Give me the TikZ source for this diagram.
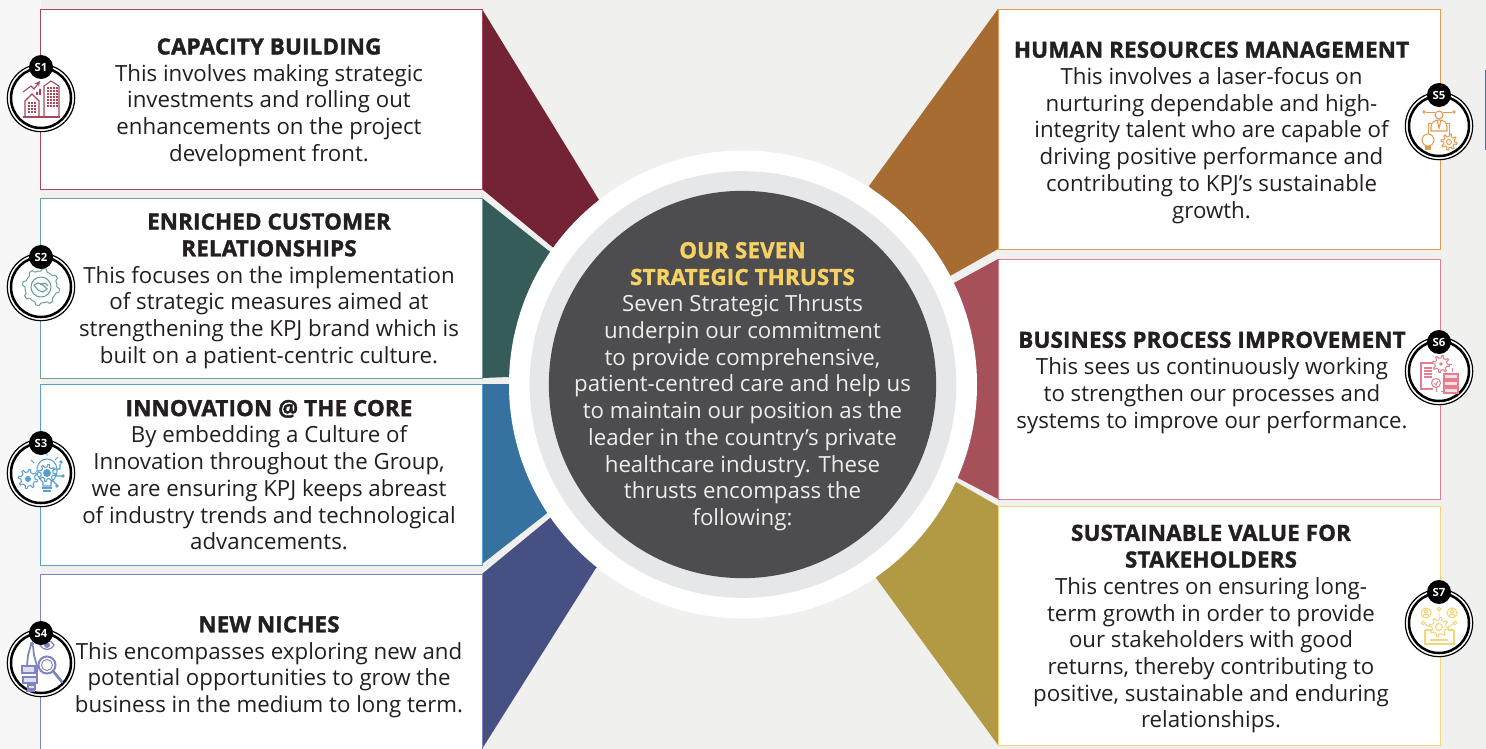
\documentclass[tikz,border=0pt]{standalone}
\usepackage{fontspec}
\setmainfont{Open Sans}
\newfontfamily\headfont{Open Sans}[BoldFeatures={FakeBold=1.6,LetterSpace=1.0}]
\usetikzlibrary{calc}
\definecolor{bgc}{HTML}{F0F0EE}
\definecolor{cA}{HTML}{732333}\definecolor{cB}{HTML}{355C59}\definecolor{cC}{HTML}{3572A0}\definecolor{cD}{HTML}{475083}
\definecolor{cE}{HTML}{A66C32}\definecolor{cF}{HTML}{A6505A}\definecolor{cG}{HTML}{B19A43}
\definecolor{lA}{HTML}{A8475A}\definecolor{lB}{HTML}{6F9F9B}\definecolor{lC}{HTML}{5A9FD0}\definecolor{lD}{HTML}{7F83C0}
\definecolor{lE}{HTML}{E39B52}\definecolor{lF}{HTML}{E37F8F}\definecolor{lG}{HTML}{F3D67A}
\definecolor{txt}{HTML}{231F20}\definecolor{dark}{HTML}{4D4D4F}\definecolor{ringg}{HTML}{E6E7E9}\definecolor{gold}{HTML}{F6D163}\definecolor{stub}{HTML}{5F6E92}
\newcommand{\hd}[1]{{\headfont\bfseries #1}}
% gear outline: x y body-radius colour
\newcommand{\geargl}[4]{%
  \begin{scope}[shift={(#1,#2)}]
  \draw[#4,line width=.75pt,fill=white,line join=round] plot[samples=65,domain=0:360] (\x:{#3+(sin(8*\x)>0.3?2.6:0)}) -- cycle;
  \end{scope}
}
\tikzset{
  panel/.style={draw=#1,fill=white,line width=.7pt,inner sep=0pt,minimum width=331pt},
  body/.style={font=\fontsize{16.7pt}{20.05pt}\selectfont,text=txt,align=center,inner sep=0pt},
  ringo/.style={circle,draw=black,fill=white,line width=.9pt,minimum size=50.5pt,inner sep=0pt},
  badge/.style={circle,fill=black,text=white,minimum size=18pt,inner sep=0pt,font=\fontsize{8.5pt}{10pt}\selectfont\bfseries},
}
\newcommand{\ringat}[3]{%
  \node[ringo] (r#1) at (#2,#3) {};
  \draw[black,line width=1.9pt] (r#1.center) circle[radius=30];
}
\begin{document}
\begin{tikzpicture}[x=.75pt,y=-.75pt]
\useasboundingbox (0,0) rectangle (1486,749);
\fill[bgc] (0,0) rectangle (1486,749);
\fill[black!3] (0,0) rectangle (41,749);
\fill[stub] (1484.5,70) rectangle (1486,150);
% wedges
\fill[cA] (482,9) -- (599,200) -- (640,230) -- (553,247.5) -- (482,189) -- cycle;
\fill[cB] (482,198) -- (549,251) -- (600,300) -- (509,377) -- (482,378) -- cycle;
\fill[cC] (482,384) -- (509,384) -- (600,450) -- (546,514) -- (482,564) -- cycle;
\fill[cD] (482,574) -- (550,518) -- (640,540) -- (596,568) -- (482,749) -- cycle;
\fill[cE] (998,9) -- (869,186) -- (900,220) -- (950,276) -- (998,249) -- cycle;
\fill[cF] (998,259) -- (954,283) -- (900,380) -- (958,478) -- (998,499) -- cycle;
\fill[cG] (998,506) -- (956,482) -- (900,540) -- (876,578) -- (998,745) -- cycle;
% centre
\node[circle,fill=white,minimum size=351pt,inner sep=0pt] (co) at (743,384.5) {};
\node[circle,fill=ringg,minimum size=320pt,inner sep=0pt] (cm) at (743,384.5) {};
\node[circle,fill=dark,minimum size=290.5pt,inner sep=0pt] (ci) at (742.5,384.5) {};
\node[font=\fontsize{16.7pt}{20.05pt}\selectfont,text=white!93!black,align=center,inner sep=0pt] (ct) at (742.5,386.5)
 {{\color{gold}\hd{OUR SEVEN}}\\{\color{gold}\hd{STRATEGIC THRUSTS}}\\Seven Strategic Thrusts\\underpin our commitment\\to provide comprehensive,\\patient-centred care and help us\\to maintain our position as the\\leader in the country’s private\\healthcare industry. These\\thrusts encompass the\\following:};
% panels
\node[panel=lA,minimum height=135pt] (p1) at (261.5,99) {};
\node[panel=lB,minimum height=135pt] (p2) at (261.5,288) {};
\node[panel=lC,minimum height=135.75pt] (p3) at (261.5,474.5) {};
\node[panel=lD,minimum height=135pt] (p4) at (261.5,664) {};
\node[panel=lE,minimum height=180pt,minimum width=331.5pt] (p5) at (1219,129) {};
\node[panel=lF,minimum height=180pt,minimum width=331.5pt] (p6) at (1219,379) {};
\node[panel=lG,minimum height=179.5pt,minimum width=331.5pt] (p7) at (1219,626) {};
% texts
\node[body] (t1) at (269,102.5) {\hd{CAPACITY BUILDING}\\This involves making strategic\\investments and rolling out\\enhancements on the project\\development front.};
\node[body] (t2) at (269,291) {\hd{ENRICHED CUSTOMER}\\\hd{RELATIONSHIPS}\\This focuses on the implementation\\of strategic measures aimed at\\strengthening the KPJ brand which is\\built on a patient-centric culture.};
\node[body] (t3) at (269,475) {\hd{INNOVATION @ THE CORE}\\By embedding a Culture of\\Innovation throughout the Group,\\we are ensuring KPJ keeps abreast\\of industry trends and technological\\advancements.};
\node[body] (t4) at (269,667) {\hd{NEW NICHES}\\This encompasses exploring new and\\potential opportunities to grow the\\business in the medium to long term.};
\node[body] (t5) at (1211.5,132.5) {\hd{HUMAN RESOURCES MANAGEMENT}\\This involves a laser-focus on\\nurturing dependable and high-\\integrity talent who are capable of\\driving positive performance and\\contributing to KPJ’s sustainable\\growth.};
\node[body] (t6) at (1212,382.5) {\hd{BUSINESS PROCESS IMPROVEMENT}\\This sees us continuously working\\to strengthen our processes and\\systems to improve our performance.};
\node[body] (t7) at (1211,629) {\hd{SUSTAINABLE VALUE FOR}\\\hd{STAKEHOLDERS}\\This centres on ensuring long-\\term growth in order to provide\\our stakeholders with good\\returns, thereby contributing to\\positive, sustainable and enduring\\relationships.};
% rings
\ringat{1}{41}{98}
\ringat{2}{41}{287}
\ringat{3}{41}{473}
\ringat{4}{41}{663}
\ringat{5}{1439}{126}
\ringat{6}{1439}{371}
\ringat{7}{1439}{623}
% icon S1
\begin{scope}[shift={(41,98)}]
 \draw[lA,line width=.9pt] (-18,19) -- (19,19);
 \draw[lA,line width=.8pt] (-16,19) -- (-16,3) -- (-9,-4) -- (-2,3) -- (-2,19);
 \draw[lA,line width=.8pt] (3,19) -- (3,-12) -- (10,-17) -- (18,-12) -- (18,19);
 \foreach \xx in {-13,-10,-7} \foreach \yy in {4,7,10,13} \fill[lA] (\xx,\yy) rectangle +(2,2);
 \foreach \xx in {6,9,12,15} \foreach \yy in {-11,-8,-5,-2,1,4,7} \fill[lA] (\xx,\yy) rectangle +(2,2);
 \draw[lA,line width=.8pt,-stealth] (-18,-6) -- (-10,-12) -- (-7,-9) -- (-1,-17);
 \fill[lA] (-5,-6) rectangle +(2,3) (-2,-9) rectangle +(2,6);
\end{scope}
% icon S2
\begin{scope}[shift={(41,287)}]
 \geargl{0}{0}{16}{lB}
 \draw[lB,line width=.8pt] (0,0) circle[radius=10];
 \draw[lB,line width=.8pt] (-7,-2) -- (-3,-4) -- (2,-2) -- (6,2) -- (2,5) -- (-3,3) -- cycle;
 \draw[lB,line width=.8pt] (-1,-3) -- (4,-4) -- (7,-1);
\end{scope}
% icon S3
\begin{scope}[shift={(41,473)}]
 \geargl{-13}{6}{7}{lC}
 \fill[lC] (-13,6) circle[radius=3];
 \draw[lC,line width=.8pt,fill=white] (2,13) -- (2,9) .. controls (-8,2) and (-5,-14) .. (6,-14) .. controls (17,-14) and (20,2) .. (10,9) -- (10,13) -- cycle;
 \geargl{6}{0}{6}{lC}
 \fill[lC] (6,0) circle[radius=4];
 \draw[lC,line width=1.2pt] (1,15) -- (11,15) (2,18) -- (10,18);
 \draw[lC,line width=.7pt] (-7,-10) -- (-10,-13) (6,-17) -- (6,-20) (14,-13) -- (17,-16);
 \draw[lC,line width=.8pt] (13,-4) -- (19,-4) -- (19,-9) (14,3) -- (21,3) (11,7) -- (16,12);
 \fill[lC] (20,-11) circle[radius=1.8] (22,3) circle[radius=1.8] (16,13) circle[radius=1.8];
\end{scope}
% icon S4
\begin{scope}[shift={(41,663)}]
 \draw[lD,line width=1.2pt] (-15,28) -- (-6,28);
 \draw[lD,line width=1.3pt] (-10,-18) -- (-13,-8) -- (-14,3) (-8,-17) -- (-7,-8) -- (-4,3) -- (-4,18);
 \draw[lD,line width=.9pt,fill=lD!25] (-19,3) rectangle (-6,10) (-18,14) rectangle (-4,20) (-13,22) rectangle (-6,26);
 \fill[lD] (-9,-19) circle[radius=2];
 \draw[lD,line width=.9pt] (-1,-18) .. controls (3,-24) and (9,-24) .. (13,-18) .. controls (9,-12) and (3,-12) .. (-1,-18) -- cycle;
 \fill[lD] (6,-18) circle[radius=3];
 \draw[lD,line width=1.5pt] (6,2) circle[radius=8.5];
 \draw[lD,line width=.7pt] (6,2) circle[radius=5.5];
 \draw[lD,line width=2pt,line cap=round] (12,8) -- (21,19);
\end{scope}
% icon S5
\begin{scope}[shift={(1439,126)}]
 \draw[lE,line width=.8pt] (0,-11) circle[radius=4];
 \draw[lE,line width=.8pt] (-8,5) -- (-8,1) .. controls (-8,-4) and (-4,-6) .. (0,-6) .. controls (4,-6) and (8,-4) .. (8,1) -- (8,5) -- cycle;
 \draw[lE,line width=.8pt] (-2,-6) -- (0,2) -- (2,-6);
 \draw[lE,line width=.7pt] (-13,-14) -- (-4,-14) (4,-14) -- (13,-14) (-11,8) -- (-11,-3) -- (-8,-3) (10,8) -- (10,-3) -- (8,-3);
 \draw[lE,line width=.7pt] (-15,-14) circle[radius=1.3] (15,-14) circle[radius=1.3];
 \draw[lE,line width=.8pt] (-11,14) circle[radius=6];
 \draw[lE,line width=.9pt] (-14,21) -- (-8,21) (-14,23) -- (-8,23);
 \geargl{10}{16}{5.5}{lE}
 \draw[lE,line width=.7pt] (10,16) circle[radius=2.5];
\end{scope}
% icon S6
\begin{scope}[shift={(1439,371)}]
 \draw[lF,line width=.8pt] (-5,-8) -- (-18,-8) -- (-18,18) -- (-6,18);
 \foreach \yy in {-3,0,3,6} \draw[lF,line width=.8pt] (-15,\yy) -- (-7,\yy);
 \geargl{2}{-7}{6}{lF}
 \fill[lF] (2,-7) circle[radius=1.8];
 \draw[lF,line width=.8pt] (-3,12) circle[radius=4.5];
 \draw[lF,line width=.7pt] (-5,12) -- (-3,14) -- (-1,10);
 \draw[lF,line width=.8pt,fill=lF!25] (5,3) rectangle (19,8) (5,10) rectangle (19,15) (5,17) rectangle (19,22);
 \draw[lF,line width=.5pt,dashed] (9,-7) -- (13,-7) -- (13,3) (-3,17) -- (-3,20) -- (5,20);
\end{scope}
% icon S7
\begin{scope}[shift={(1439,623)}]
 \draw[lG,line width=.8pt] (-13,-10) circle[radius=5] (13,-10) circle[radius=5];
 \draw[lG,line width=.8pt] (-13,-11.5) circle[radius=1.8] (13,-11.5) circle[radius=1.8];
 \draw[lG,line width=.8pt] (-16,-6.5) -- (-15,-8.5) -- (-11,-8.5) -- (-10,-6.5) (10,-6.5) -- (11,-8.5) -- (15,-8.5) -- (16,-6.5);
 \draw[lG,line width=.8pt] (0,-14) circle[radius=1.8] (-16,0) circle[radius=1.8] (16,0) circle[radius=1.8];
 \draw[lG,line width=.7pt] (0,-12) -- (0,-6) (-14,1) -- (-9,4) (14,1) -- (9,4);
 \draw[lG,line width=.9pt] (-14,7) -- (-14,21) -- (15,21) -- (15,7) (-14,7) -- (-8,7) (9,7) -- (15,7);
 \geargl{0}{4}{7}{lG}
 \draw[lG,line width=.8pt] (0,4) circle[radius=3.5];
 \draw[lG,line width=1.4pt] (-9,17) -- (9,17);
\end{scope}
% badges on top of the icons
\node[badge] (s1) at (41,67) {S1};
\node[badge] (s2) at (41,257) {S2};
\node[badge] (s3) at (41,443) {S3};
\node[badge] (s4) at (41,633) {S4};
\node[badge] (s5) at (1439,95) {S5};
\node[badge] (s6) at (1439,342) {S6};
\node[badge] (s7) at (1439,592) {S7};
\end{tikzpicture}
\end{document}
